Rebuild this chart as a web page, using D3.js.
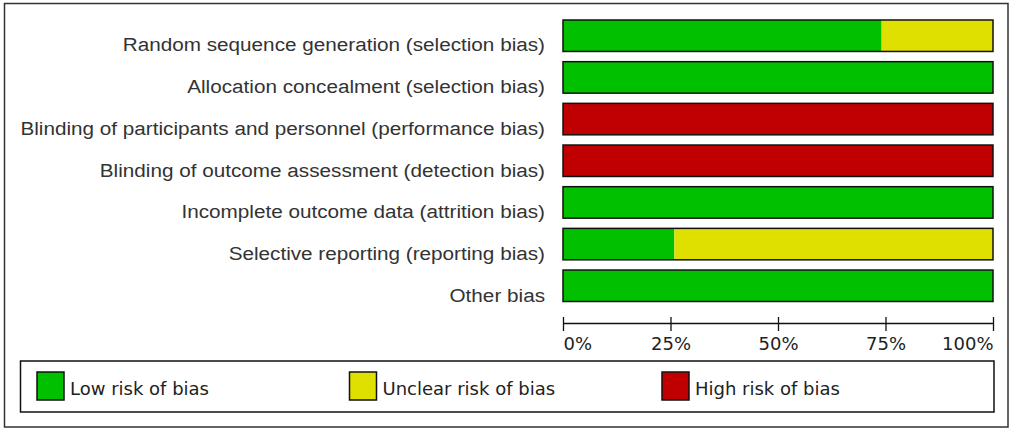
<!DOCTYPE html>
<html>
<head>
<meta charset="utf-8">
<script src="https://cdn.jsdelivr.net/npm/d3@7"></script>
<style>
  body { margin: 0; background: #fff; }
  svg { display: block; }
</style>
</head>
<body>
<div id="chart"></div>
<script>
var width = 1013,
    height = 431;

// risk of bias domains, percentages of studies (n = 27)
var categories = [
    "Random sequence generation (selection bias)",
    "Allocation concealment (selection bias)",
    "Blinding of participants and personnel (performance bias)",
    "Blinding of outcome assessment (detection bias)",
    "Incomplete outcome data (attrition bias)",
    "Selective reporting (reporting bias)",
    "Other bias"];
var lowRisk     = [74.1, 100, 0, 0, 100, 25.9, 100];
var unclearRisk = [25.9, 0, 0, 0, 0, 74.1, 0];
var highRisk    = [0, 0, 100, 100, 0, 0, 0];

var tickValues = [0, 25, 50, 75, 100];
var tickLabels = ["0%", "25%", "50%", "75%", "100%"];

var seriesKeys = ["low", "unclear", "high"];
var seriesNames = ["Low risk of bias", "Unclear risk of bias", "High risk of bias"];
var seriesColors = ["#00c000", "#e0e000", "#c00000"];

var rows = categories.map(function(c, i) {
    return { name: c, low: lowRisk[i], unclear: unclearRisk[i], high: highRisk[i] };
});

var svg = d3.select("#chart").append("svg")
    .attr("width", width)
    .attr("height", height);

// outer frame
svg.append("rect")
    .attr("x", 4.5).attr("y", 3.5)
    .attr("width", 1003.5).attr("height", 423.5)
    .attr("fill", "none")
    .attr("stroke", "#333")
    .attr("stroke-width", 1.5);

var x = d3.scaleLinear().domain([0, 100]).range([563, 993]);
var y = d3.scaleBand().domain(categories).range([20, 301.5]).paddingInner(0.245).paddingOuter(0);
var color = d3.scaleOrdinal().domain(seriesKeys).range(seriesColors);

var stacked = d3.stack().keys(seriesKeys)(rows);

svg.append("g").selectAll("g")
    .data(stacked)
    .enter().append("g")
        .attr("fill", function(d) { return color(d.key); })
    .selectAll("rect")
    .data(function(d) { return d; })
    .enter().append("rect")
        .attr("x", function(d) { return x(d[0]); })
        .attr("y", function(d) { return y(d.data.name); })
        .attr("width", function(d) { return x(d[1]) - x(d[0]); })
        .attr("height", y.bandwidth());

// bar outlines
svg.append("g").selectAll("rect")
    .data(categories)
    .enter().append("rect")
        .attr("x", x(0))
        .attr("y", function(d) { return y(d); })
        .attr("width", x(100) - x(0))
        .attr("height", y.bandwidth())
        .attr("fill", "none")
        .attr("stroke", "#111")
        .attr("stroke-width", 1.5);

// category labels, squeezed a little to fit the picture
var labelG = svg.append("g");
var labels = labelG.selectAll("text")
    .data(categories)
    .enter().append("text")
        .attr("x", 0)
        .attr("y", function(d) { return y(d) + 31.5; })
        .attr("text-anchor", "end")
        .attr("font-family", "Liberation Sans, Arial, sans-serif")
        .attr("font-size", "19px")
        .attr("fill", "#333")
        .text(function(d) { return d; });
var maxW = d3.max(labels.nodes(), function(n) { return n.getComputedTextLength(); });
var sx = 525 / maxW;
labelG.attr("transform", "translate(545,0) scale(" + sx + ",1)");

// axis
var axis = d3.axisBottom(x)
    .tickValues(tickValues)
    .tickFormat(function(d, i) { return tickLabels[i]; })
    .tickSizeOuter(0);

var axisG = svg.append("g")
    .attr("transform", "translate(0,323)")
    .call(axis);
axisG.select(".domain").attr("stroke", "#111").attr("stroke-width", 1.3);
axisG.selectAll(".tick line")
    .attr("y1", -6).attr("y2", 8)
    .attr("stroke", "#111").attr("stroke-width", 1.3);
axisG.selectAll(".tick text")
    .attr("y", 27).attr("dy", null)
    .attr("font-family", "DejaVu Sans, sans-serif")
    .attr("font-size", "18px")
    .attr("fill", "#222")
    .attr("text-anchor", function(d, i) {
        return i === 0 ? "start" : (i === tickValues.length - 1 ? "end" : "middle");
    });

// legend
svg.append("rect")
    .attr("x", 20.5).attr("y", 361)
    .attr("width", 973.5).attr("height", 51)
    .attr("fill", "none")
    .attr("stroke", "#111")
    .attr("stroke-width", 1.5);

var legendX = d3.scalePoint().domain(seriesKeys).range([37, 662]);

var legend = svg.append("g").selectAll("g")
    .data(seriesKeys)
    .enter().append("g")
        .attr("transform", function(d) { return "translate(" + legendX(d) + ",372)"; });
legend.append("rect")
    .attr("width", 27).attr("height", 28)
    .attr("fill", function(d) { return color(d); })
    .attr("stroke", "#111")
    .attr("stroke-width", 1.5);
legend.append("text")
    .attr("x", 33).attr("y", 23)
    .attr("font-family", "DejaVu Sans, sans-serif")
    .attr("font-size", "18px")
    .attr("fill", "#222")
    .text(function(d, i) { return seriesNames[i]; });
</script>
</body>
</html>
